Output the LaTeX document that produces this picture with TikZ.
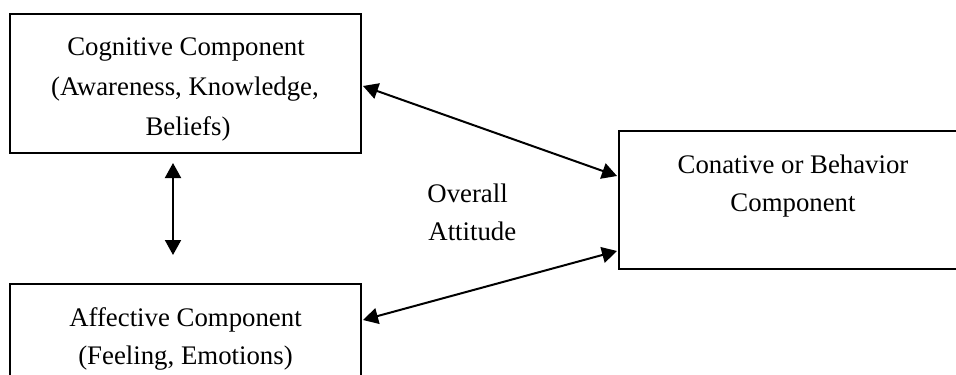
\documentclass[tikz,border=0pt]{standalone}
\usepackage{fontspec}
\setmainfont{Liberation Serif}
\usetikzlibrary{arrows.meta,calc}
\begin{document}
\begin{tikzpicture}[x=0.5pt,y=-0.5pt,
  box/.style={draw,line width=1pt,rectangle,inner sep=0pt},
  txt/.style={anchor=base,inner sep=0pt,font=\fontsize{13.4}{19}\selectfont},
  txtl/.style={txt,anchor=base west},
  arr/.style={line width=1pt,{Triangle[length=7.5pt,width=8pt]}-{Triangle[length=7.5pt,width=8pt]}}]
\path[use as bounding box, clip] (0,0) rectangle (956,374);
\fill[white] (0,0) rectangle (956,374);
% boxes
\node[box,minimum width=175.5pt,minimum height=69.5pt] (cog) at (185.5,83.5) {};
\node[box,minimum width=175.5pt,minimum height=68pt] (aff) at (185.5,352) {};
\node[box,minimum width=174pt,minimum height=69pt] (con) at (793,200) {};
% texts
\node[txt] (cog1) at (186,56) {Cognitive Component};
\node[txt] (cog2) at (185,96) {(Awareness, Knowledge,};
\node[txt] (cog3) at (188,135) {Beliefs)};
\node[txt] (aff1) at (185.5,326) {Affective Component};
\node[txt] (aff2) at (185.5,364) {(Feeling, Emotions)};
\node[txt] (con1) at (793,173) {Conative or Behavior};
\node[txt] (con2) at (793,211) {Component};
\node[txtl] (ov1) at (427,202) {Overall};
\node[txtl] (ov2) at (428,240) {Attitude};
% arrows
\draw[arr] ($(cog.south)+(-12.5,9)$) -- ($(aff.north)+(-12.5,-28)$);
\draw[arr] ($(cog.north east)+(1,73)$) -- ($(con.north west)+(-1,46)$);
\draw[arr] ($(aff.north east)+(1,37)$) -- ($(con.north west)+(-1,121)$);
\end{tikzpicture}
\end{document}
